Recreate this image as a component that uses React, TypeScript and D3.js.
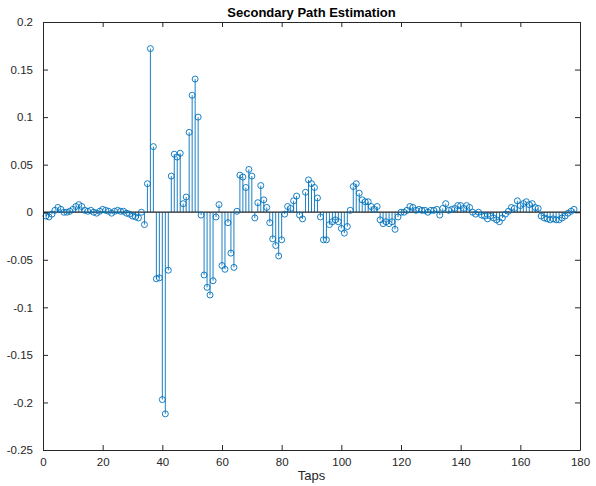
import * as d3 from 'd3';
import { useEffect, useRef } from 'react';

// estimated filter taps (tap index = position + 1)
const estimate = [
  -0.004, -0.005, -0.002, 0.002, 0.005, 0.003, 0.000, 0.000, 0.001, 0.003,
  0.006, 0.008, 0.006, 0.002, 0.001, 0.002, 0.000, -0.001, 0.001, 0.003,
  0.002, 0.001, -0.001, 0.001, 0.002, 0.001, 0.001, -0.001, -0.002, -0.004,
  -0.005, -0.006, 0.000, -0.013, 0.030, 0.172, 0.069, -0.070, -0.069, -0.197,
  -0.212, -0.061, 0.038, 0.061, 0.058, 0.062, 0.009, 0.016, 0.084, 0.123,
  0.140, 0.100, -0.003, -0.066, -0.079, -0.087, -0.072, -0.005, 0.008, -0.056,
  -0.060, -0.011, -0.043, -0.058, 0.001, 0.039, 0.037, 0.026, 0.045, 0.038,
  -0.006, 0.010, 0.028, 0.013, 0.005, -0.011, -0.028, -0.035, -0.046, -0.029,
  -0.002, 0.006, 0.004, 0.012, 0.017, -0.003, -0.007, 0.021, 0.034, 0.030,
  0.026, 0.015, -0.005, -0.029, -0.029, -0.013, -0.010, -0.008, -0.010, -0.017,
  -0.022, -0.015, 0.002, 0.027, 0.030, 0.020, 0.013, 0.011, 0.011, 0.006,
  0.003, 0.006, -0.008, -0.012, -0.010, -0.012, -0.010, -0.018, -0.005, 0.000,
  0.000, 0.002, 0.006, 0.005, 0.002, 0.003, 0.002, 0.002, 0.000, 0.002,
  0.002, 0.003, -0.003, 0.004, 0.009, 0.002, 0.003, 0.004, 0.007, 0.007,
  0.004, 0.007, 0.005, 0.000, -0.002, 0.000, -0.003, -0.004, -0.007, -0.004,
  -0.006, -0.008, -0.010, -0.006, -0.002, 0.001, 0.005, 0.004, 0.012, 0.007,
  0.009, 0.011, 0.008, 0.009, 0.005, 0.004, -0.004, -0.006, -0.007, -0.008,
  -0.007, -0.008, -0.008, -0.006, -0.004, -0.001, 0.001, 0.003,
];

const xTicks = [0, 20, 40, 60, 80, 100, 120, 140, 160, 180];
const yTicks = [-0.25, -0.2, -0.15, -0.1, -0.05, 0, 0.05, 0.1, 0.15, 0.2];

const titleText = 'Secondary Path Estimation';
const xLabelText = 'Taps';

const App = () => {
  const ref = useRef<SVGSVGElement>(null);
  const width = 596;
  const height = 486;

  useEffect(() => {
    const svg = d3.select(ref.current);
    svg.selectAll('*').remove();

    const margin = { top: 22, right: 16, bottom: 36, left: 43 };
    const innerWidth = width - margin.left - margin.right;
    const innerHeight = height - margin.top - margin.bottom;
    const axisColor = '#262626';
    const stemColor = '#0072bd';
    const font = '"Liberation Sans", Arial, Helvetica, sans-serif';

    const x = d3.scaleLinear().domain([0, 180]).range([0, innerWidth]);
    const y = d3.scaleLinear().domain([-0.25, 0.2]).range([innerHeight, 0]);

    const data = estimate.map((v, i) => ({ tap: i + 1, value: v }));

    svg.append('rect')
      .attr('width', width)
      .attr('height', height)
      .attr('fill', '#fff');

    const g = svg.append('g')
      .attr('transform', `translate(${margin.left},${margin.top})`);

    // stems
    g.selectAll('line.stem')
      .data(data)
      .enter()
      .append('line')
      .attr('class', 'stem')
      .attr('x1', d => x(d.tap))
      .attr('x2', d => x(d.tap))
      .attr('y1', y(0))
      .attr('y2', d => y(d.value))
      .attr('stroke', stemColor)
      .attr('stroke-width', 0.9);

    // baseline
    g.append('line')
      .attr('x1', x(0))
      .attr('x2', x(180))
      .attr('y1', y(0))
      .attr('y2', y(0))
      .attr('stroke', '#222')
      .attr('stroke-width', 1.2);

    g.selectAll('circle.mark')
      .data(data)
      .enter()
      .append('circle')
      .attr('class', 'mark')
      .attr('cx', d => x(d.tap))
      .attr('cy', d => y(d.value))
      .attr('r', 3)
      .attr('fill', 'none')
      .attr('stroke', stemColor)
      .attr('stroke-width', 0.9);

    // axes, ticks pointing inward on all four sides
    const tickLen = 5;
    const styleAxis = (sel) => {
      sel.select('.domain').attr('stroke', axisColor);
      sel.selectAll('.tick line').attr('stroke', axisColor);
      sel.selectAll('.tick text')
        .attr('fill', axisColor)
        .style('font-family', font)
        .style('font-size', '11.5px');
    };

    g.append('g')
      .attr('transform', `translate(0,${innerHeight})`)
      .call(d3.axisBottom(x).tickValues(xTicks).tickSizeInner(-tickLen).tickSizeOuter(0).tickPadding(tickLen + 3).tickFormat(d3.format('d')))
      .call(styleAxis);

    g.append('g')
      .call(d3.axisTop(x).tickValues(xTicks).tickSizeInner(-tickLen).tickSizeOuter(0).tickFormat(() => ''))
      .call(styleAxis);

    g.append('g')
      .call(d3.axisLeft(y).tickValues(yTicks).tickSizeInner(-tickLen).tickSizeOuter(0).tickPadding(tickLen + 5)
        .tickFormat(d => String(+(+d).toFixed(2))))
      .call(styleAxis);

    g.append('g')
      .attr('transform', `translate(${innerWidth},0)`)
      .call(d3.axisRight(y).tickValues(yTicks).tickSizeInner(-tickLen).tickSizeOuter(0).tickFormat(() => ''))
      .call(styleAxis);

    svg.append('text')
      .attr('x', margin.left + innerWidth / 2)
      .attr('y', 17)
      .attr('text-anchor', 'middle')
      .attr('fill', '#000')
      .style('font-family', font)
      .style('font-size', '13px')
      .style('font-weight', 'bold')
      .text(titleText);

    svg.append('text')
      .attr('x', margin.left + innerWidth / 2)
      .attr('y', 480)
      .attr('text-anchor', 'middle')
      .attr('fill', axisColor)
      .style('font-family', font)
      .style('font-size', '13px')
      .text(xLabelText);

    return () => {
      svg.selectAll('*').remove();
    };
  }, []);

  return (
    <svg
      ref={ref}
      width={width}
      height={height}
      style={{ position: 'absolute', left: 0, top: 0 }}
    />
  );
};

export default App;
